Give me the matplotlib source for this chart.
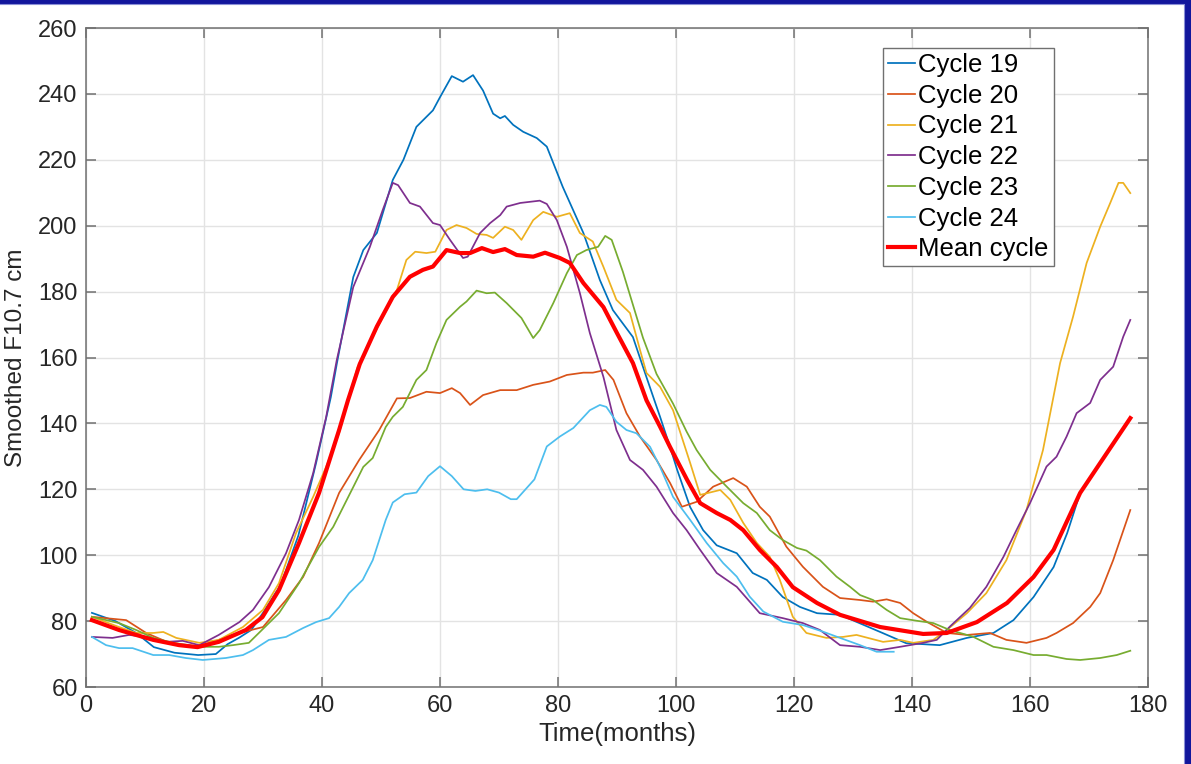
import matplotlib.pyplot as plt
from matplotlib.patches import Rectangle

# smoothed F10.7 cm flux per solar cycle, months since cycle start
c19_t = [1, 5, 8.5, 11.5, 15, 19, 22, 24, 26, 28, 30, 33, 36, 39, 41.5, 42.5, 45.3, 47, 49.3, 52, 53.8,
         56, 58.8, 60, 62, 63.9, 65.6, 67.3, 69, 70.2, 71, 72.4, 74.1, 76.4, 78.1, 80.8, 84.3, 87.1,
         89.3, 92.7, 95, 97.3, 99, 100.2, 102.4, 104.6, 106.9, 110.3, 113, 115.4, 118.1, 121, 123.9,
         127.8, 135, 139, 144.7, 149.3, 153.8, 157.2, 160.6, 164, 166.3, 168.5, 171.9, 177]
c19_f = [82.5, 80, 76.4, 72.1, 70.4, 69.7, 70, 73, 75, 77.3, 82.5, 91, 106, 128, 148, 158, 184.4,
         192.6, 197.8, 213.9, 220, 230, 235, 239, 245.4, 243.7, 245.7, 241, 234, 232.6, 233.3, 230.6,
         228.5, 226.6, 224, 211.8, 197.8, 183.5, 174.4, 166.2, 154, 142, 132.8, 125.9, 114.6, 107.6,
         103, 100.6, 94.6, 92.5, 87.3, 84.3, 82.4, 81.9, 76.4, 73.3, 72.7, 74.9, 76.4, 80.3, 87.3,
         96.4, 106.7, 118.9, 128, 141.6]

c20_t = [1, 6.8, 10.2, 14.1, 18.6, 22.5, 26, 30, 33.9, 36.8, 39.5, 42.9, 46.3, 49.7, 52.7, 54.9, 57.7,
         60, 62, 63.4, 65.1, 67.3, 70.2, 73, 75.8, 78.6, 81.5, 84.3, 85.9, 88, 89.4, 91.6, 93.9, 96.7,
         99, 101, 103.5, 106.3, 109.7, 112, 114.2, 115.9, 118.7, 121.5, 124.9, 127.8, 131.2, 133.4,
         135.7, 138, 140.2, 142.5, 145.9, 149.3, 153.2, 156, 159.4, 162.8, 164.5, 167.3, 170.2, 171.9,
         174.1, 177]
c20_f = [81.3, 80.3, 76.4, 73.4, 72.1, 74.3, 76.4, 78.2, 86.4, 93.4, 103.7, 118.9, 128.9, 138, 147.6,
         147.7, 149.6, 149.2, 150.7, 149.2, 145.6, 148.6, 150.1, 150.1, 151.7, 152.7, 154.7, 155.4,
         155.4, 156.2, 153.2, 143.1, 136, 128.9, 121.9, 114.7, 116.2, 120.8, 123.4, 120.8, 114.7,
         111.7, 102.6, 96.5, 90.4, 87, 86.4, 85.9, 86.6, 85.5, 82.4, 79.8, 76.4, 75.8, 76.4, 74.3,
         73.4, 74.9, 76.4, 79.4, 84.3, 88.5, 98.5, 113.7]

c21_t = [1, 5.6, 8.5, 11.4, 13.1, 15.3, 19.2, 22.5, 26.6, 30, 32.7, 35.6, 38.5, 40.7, 42.9, 46, 49.8,
         52.7, 54.3, 55.8, 57.7, 59.2, 61.1, 62.8, 64.5, 66.2, 67.9, 69, 71, 72.4, 73.8, 75.8, 77.5,
         79.8, 82, 83.7, 85.9, 87.7, 89.9, 92.2, 93.9, 95, 97.3, 99.5, 102.4, 104.1, 107.5, 109.2,
         111.4, 113.7, 115.9, 117.6, 119.8, 122.1, 125.5, 128.3, 130.6, 135.1, 138, 140.2, 143.6,
         145.9, 149.3, 152.6, 156, 159.4, 162.2, 165.1, 167.3, 169.6, 171.9, 173.6, 175, 175.8, 177]
c21_f = [81.3, 78.2, 76.4, 76.4, 76.7, 74.9, 73.4, 74.3, 78.2, 83.4, 91.5, 106.7, 117.7, 126.8, 137.1,
         157, 170.5, 180.5, 189.6, 192.1, 191.7, 192.1, 198.7, 200.2, 199.3, 197.5, 197.2, 196.3,
         199.7, 198.7, 195.7, 201.7, 204.2, 202.7, 203.8, 197.8, 195.2, 187.5, 177.5, 173.5, 162.3,
         155.3, 151.1, 144, 128, 118.3, 119.8, 116.8, 109.8, 103.7, 99.5, 92.5, 81.3, 76.4, 74.9,
         75.2, 75.8, 73.7, 74.3, 73.4, 74.3, 77.3, 82.4, 88.5, 98.5, 113.7, 131.9, 158.3, 172.4,
         188.7, 199.7, 206.9, 213, 213, 209.9]

c22_t = [1, 4.5, 7.3, 10.2, 13.6, 16.4, 19.2, 22.5, 26, 28.3, 31, 33.9, 36.1, 38.5, 40.7, 42.5, 45.3,
         48.1, 50.3, 52, 52.9, 54.9, 56.6, 58.8, 60, 61.7, 63.9, 64.7, 66.8, 68.5, 70.2, 71.3, 73.6,
         76.9, 78.1, 79.8, 81.5, 83.7, 85.4, 87.7, 89.9, 92.2, 94.4, 96.7, 99.5, 101.8, 104.1, 106.9,
         110.3, 114.2, 118.1, 121.5, 124.4, 127.8, 131.2, 134.6, 138, 141.9, 144.2, 146.4, 149.8,
         152.6, 155.5, 157.7, 160, 162.8, 164.5, 166.2, 167.9, 170.2, 171.9, 174.1, 175.8, 177]
c22_f = [75.2, 74.9, 75.8, 75.2, 73.7, 74, 72.7, 75.8, 79.7, 83.4, 90.3, 100.6, 110.7, 124.9, 141.9,
         159.2, 181.4, 193.5, 204.8, 213, 212.3, 206.9, 205.8, 200.8, 200.2, 195.7, 190.2, 190.6,
         197.8, 200.8, 203.2, 205.8, 206.9, 207.6, 206.6, 201.7, 193.6, 179.6, 167.4, 154.1, 138,
         128.9, 125.9, 120.8, 112.8, 107.6, 101.6, 94.6, 90.4, 82.4, 80.9, 79.4, 77.3, 72.7, 72.2,
         71.2, 72.2, 73.4, 74.3, 78.3, 84, 90.4, 99.5, 107.6, 115.8, 126.9, 129.9, 136, 143.1, 146.2,
         153.2, 157.2, 166.3, 171.4]

c23_t = [1, 5.6, 8.5, 11.4, 14.8, 19.2, 22.5, 24.9, 27.6, 29.3, 32.7, 36.1, 39.5, 41.9, 45.3, 47,
         48.6, 50.8, 52, 53.7, 56, 57.7, 59.4, 61.1, 63.4, 64.5, 66.2, 67.9, 69.3, 71.3, 73.8, 75.8,
         76.9, 79.2, 81.5, 83.2, 84.8, 86.8, 88, 89.1, 91, 92.7, 94.4, 96.7, 99.5, 101.8, 103.5,
         105.8, 108.6, 111.4, 113.7, 115.9, 118.1, 120.5, 122.1, 124.4, 127.2, 129.5, 131.2, 133.4,
         135.7, 138, 140.8, 143.6, 146.4, 150.3, 153.8, 157.2, 160.6, 162.8, 166.2, 168.5, 171.9,
         174.7, 177]
c23_f = [81.3, 79.4, 77.3, 74.9, 73.4, 72.2, 72.2, 72.7, 73.4, 76.4, 82.4, 91.5, 102.5, 108.6, 120.7,
         126.8, 129.5, 138.9, 142, 145, 153.2, 156.2, 164.4, 171.4, 175.4, 177, 180.3, 179.5, 179.7,
         176.5, 172, 165.9, 168.3, 176.5, 185.6, 191.1, 192.6, 193.6, 196.9, 195.7, 186, 176, 166,
         155, 146, 137.5, 131.9, 125.9, 120.8, 115.8, 112.8, 107.6, 104.6, 102.2, 101.4, 98.5, 93.5,
         90.4, 87.9, 86.4, 83.4, 80.9, 80.1, 79.4, 77.3, 75.3, 72.2, 71.2, 69.7, 69.7, 68.5, 68.2,
         68.8, 69.7, 71]

c24_t = [1, 3.4, 5.6, 7.9, 11.4, 14.1, 16.9, 19.8, 23.7, 26.6, 28.3, 31, 33.9, 36.8, 39, 41.2, 42.9,
         44.6, 46.9, 48.6, 49.7, 50.8, 52, 54, 56, 58, 60, 62, 64, 66, 68, 70, 72, 73, 76, 78.1, 80.3,
         82.6, 85.4, 87.1, 88.2, 89.9, 91.6, 93.3, 95.6, 97.3, 99.5, 102.4, 105.2, 108, 110.3, 112.5,
         114.8, 118.1, 121.5, 124.9, 127.8, 131.2, 134, 136.9]
c24_f = [75.2, 72.7, 71.8, 71.8, 69.7, 69.7, 68.8, 68.2, 68.8, 69.7, 71.2, 74.3, 75.2, 77.9, 79.7,
         80.9, 84.3, 88.5, 92.5, 98.5, 104.6, 110.7, 116, 118.5, 119, 124, 127, 124, 120, 119.5, 120,
         119, 117, 117, 123, 133, 136, 138.6, 144, 145.6, 145, 140.5, 138, 137, 132.9, 126.8, 117.7,
         110.7, 103.7, 97.6, 93.5, 87.4, 82.9, 79.8, 78.8, 76.8, 74.9, 72.7, 70.7, 70.7]

mean_t = [1, 5.6, 11.4, 15.8, 18.9, 22.5, 27.1, 29.9, 32.7, 36.1, 39.5, 42.9, 44.4, 46.4, 49.3, 52,
          54.9, 57.1, 58.8, 61.1, 63.4, 65.1, 67.1, 69, 71, 73, 75.8, 77.8, 80.3, 82, 84.3, 87.7, 90,
          92.7, 95, 97.3, 99, 101.9, 104.1, 106.9, 109.2, 111.4, 114.2, 117.1, 119.8, 123.9, 127.8,
          134.6, 141.9, 145.9, 151, 156.1, 160.6, 164, 168.5, 171.9, 177]
mean_f = [80.3, 77.3, 74.3, 72.7, 72.1, 73.7, 77.3, 81.2, 89.4, 103.7, 118.9, 138, 147, 158, 169.4,
          178.4, 184.5, 186.6, 187.6, 192.6, 191.7, 191.7, 193.2, 192, 192.9, 191.1, 190.6, 191.8,
          190.2, 188.7, 182.6, 175.3, 167.4, 158.3, 147, 139, 132.8, 122.8, 115.8, 112.8, 110.7,
          107.6, 101.6, 96.4, 90.3, 85.5, 81.9, 78.2, 76.1, 76.4, 79.7, 85.5, 93.4, 101.6, 118.9,
          128, 141.6]

cycles = [
    ("Cycle 19", c19_t, c19_f, "#0072BD"),
    ("Cycle 20", c20_t, c20_f, "#D95319"),
    ("Cycle 21", c21_t, c21_f, "#EDB120"),
    ("Cycle 22", c22_t, c22_f, "#7E2F8E"),
    ("Cycle 23", c23_t, c23_f, "#77AC30"),
    ("Cycle 24", c24_t, c24_f, "#4DBEEE"),
]

plt.rcParams['font.family'] = ['Liberation Sans', 'DejaVu Sans']

W, H = 1191, 764
fig = plt.figure(figsize=(W / 100, H / 100), dpi=100, facecolor="#12169c")
# white slide area inside the dark frame (only top and right edges visible)
fig.patches.append(Rectangle((-0.01, -0.01), 1184 / W + 0.01, 760 / H + 0.01,
                             transform=fig.transFigure, facecolor="white",
                             edgecolor="#8a8fd6", linewidth=0.8, zorder=-10))

ax = fig.add_axes([86 / W, 1 - 687 / H, (1148 - 86) / W, (687 - 28) / H])

for name, t, f, col in cycles:
    ax.plot(t, f, color=col, linewidth=1.25, label=name)
ax.plot(mean_t, mean_f, color="red", linewidth=3.0, label="Mean cycle")

ax.set_xlim(0, 180)
ax.set_ylim(60, 260)
ax.set_xticks(range(0, 181, 20))
ax.set_yticks(range(60, 261, 20))
ax.grid(True, color="#e3e3e3", linewidth=1.0)
ax.set_axisbelow(True)

for sp in ax.spines.values():
    sp.set_color("#707070")
    sp.set_linewidth(1.1)
ax.tick_params(direction="in", length=7, width=1.1, color="#707070",
               top=True, right=True, labelsize=17, labelcolor="#262626", pad=6)

ax.set_xlabel("Time(months)", fontsize=18.5, color="#262626", labelpad=3)
ax.set_ylabel("Smoothed F10.7 cm", fontsize=17.5, color="#262626", labelpad=8)

leg = ax.legend(loc="upper right", bbox_to_anchor=(1054 / W, 1 - 48 / H),
                bbox_transform=fig.transFigure, borderaxespad=0, fontsize=18.5,
                frameon=True, fancybox=False, edgecolor="#707070", framealpha=1,
                handlelength=1.05, handletextpad=0.15, labelspacing=0.26,
                borderpad=0.2)
leg.get_frame().set_linewidth(1.0)

fig.savefig("out.png", dpi=100, facecolor=fig.get_facecolor())
